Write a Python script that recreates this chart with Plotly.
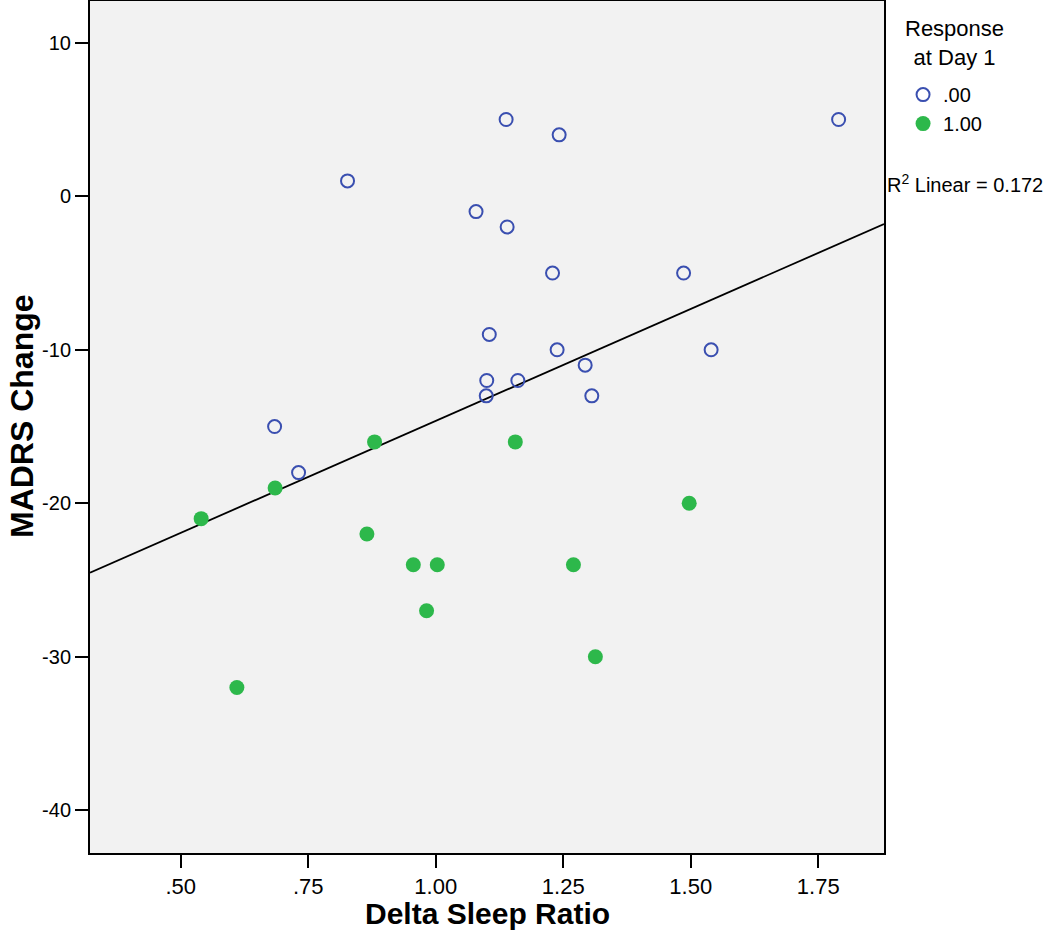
import numpy as np
import plotly.graph_objects as go

# Data: Delta Sleep Ratio vs MADRS Change, grouped by Response at Day 1
x_resp0 = [1.138, 0.827, 1.079, 1.140, 1.229, 1.105, 1.100, 1.161, 1.099, 0.684,
           0.731, 1.242, 1.790, 1.486, 1.238, 1.540, 1.293, 1.306]
y_resp0 = [5, 1, -1, -2, -5, -9, -12, -12, -13, -15,
           -18, 4, 5, -5, -10, -10, -11, -13]
x_resp1 = [0.880, 1.156, 0.685, 0.540, 0.865, 0.956, 1.003, 1.270, 0.982, 1.313,
           0.610, 1.497]
y_resp1 = [-16, -16, -19, -21, -22, -24, -24, -24, -27, -30,
           -32, -20]

x_ticks = [0.50, 0.75, 1.00, 1.25, 1.50, 1.75]
x_tick_labels = [".50", ".75", "1.00", "1.25", "1.50", "1.75"]
y_ticks = [10, 0, -10, -20, -30, -40]
y_tick_labels = ["10", "0", "-10", "-20", "-30", "-40"]
x_range = [0.322, 1.879]
y_range = [-42.78, 12.72]
legend_labels = [".00", "1.00"]
r2_label = "R<sup>2</sup> Linear = 0.172"

xs = np.array(x_resp0 + x_resp1)
ys = np.array(y_resp0 + y_resp1)
slope, intercept = np.polyfit(xs, ys, 1)
line_x = np.array(x_range)
line_y = slope * line_x + intercept

BLUE = "#3A4FB0"
GREEN = "#2DB84B"

fig = go.Figure()
fig.add_trace(go.Scatter(
    x=line_x, y=line_y, mode="lines", line=dict(color="black", width=1.8),
    showlegend=False, hoverinfo="skip", cliponaxis=True))
fig.add_trace(go.Scatter(
    x=x_resp0, y=y_resp0, mode="markers", name=legend_labels[0],
    marker=dict(symbol="circle-open", size=13, color=BLUE, line=dict(width=2, color=BLUE))))
fig.add_trace(go.Scatter(
    x=x_resp1, y=y_resp1, mode="markers", name=legend_labels[1],
    marker=dict(symbol="circle", size=15, color=GREEN, line=dict(width=0))))

axis_font = dict(family="Liberation Sans, Arial, sans-serif", size=20, color="black")
fig.update_layout(
    width=1050, height=942,
    margin=dict(l=90, r=166, t=1, b=89, autoexpand=False),
    paper_bgcolor="white", plot_bgcolor="#F2F2F2",
    font=axis_font,
    xaxis=dict(range=x_range, tickvals=x_ticks, ticktext=x_tick_labels,
               showgrid=False, zeroline=False, ticks="outside", ticklen=13,
               tickwidth=2, tickcolor="black", showline=True, linecolor="black",
               linewidth=2, mirror=True, tickfont=dict(size=22), automargin=False),
    yaxis=dict(range=y_range, tickvals=y_ticks, ticktext=y_tick_labels,
               showgrid=False, zeroline=False,
               ticks="outside", ticklen=13, tickwidth=2, tickcolor="black",
               showline=True, linecolor="black", linewidth=2, mirror=True,
               tickfont=dict(size=20), automargin=False),
    legend=dict(x=1.024, y=0.913, xanchor="left", yanchor="top",
                font=dict(size=20, color="black"), bgcolor="rgba(0,0,0,0)",
                itemsizing="trace", tracegroupgap=0),
    showlegend=True,
)

title_font = dict(family="Liberation Sans, Arial, sans-serif", size=30, color="black")
fig.add_annotation(text="<b>Delta Sleep Ratio</b>", xref="paper", yref="paper",
                   x=0.5, y=0, yshift=-60, xanchor="center", yanchor="middle",
                   showarrow=False, font=title_font)
fig.add_annotation(text="<b>MADRS Change</b>", xref="paper", yref="paper",
                   x=0, xshift=-68, y=0.5, yshift=11, xanchor="center", yanchor="middle",
                   textangle=-90, showarrow=False, font=dict(title_font, size=32))
fig.add_annotation(text="Response<br>at Day 1", xref="paper", yref="paper",
                   x=1, xshift=70, y=1, yshift=-42, xanchor="center", yanchor="middle",
                   align="center", showarrow=False,
                   font=dict(family="Liberation Sans, Arial, sans-serif", size=22, color="black"))
fig.add_annotation(text=r2_label, xref="paper", yref="paper",
                   x=1, xshift=1, y=1, yshift=-182, xanchor="left", yanchor="middle",
                   showarrow=False,
                   font=dict(family="Liberation Sans, Arial, sans-serif", size=20, color="black"))

fig.write_html("out.html", config={"displayModeBar": False},
               post_script="document.body.style.margin='0';document.body.style.overflow='hidden';")
